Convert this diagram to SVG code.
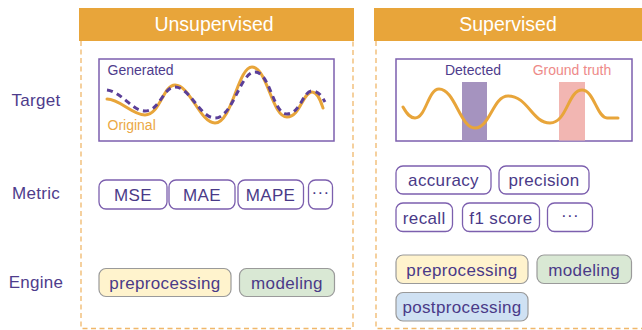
<svg xmlns="http://www.w3.org/2000/svg" width="642" height="330" viewBox="0 0 642 330">
  <style>
    text { font-family: "Liberation Sans", Arial, sans-serif; }
    .hdr { fill: #E8A53A; }
    .hdr-t { fill: #ffffff; font-size: 19.5px; text-anchor: middle; }
    .frame { fill: none; stroke: #F0B76A; stroke-width: 1.3; stroke-dasharray: 5 3.5; }
    .row { fill: #4E3C8C; font-size: 17px; text-anchor: middle; letter-spacing: 0.3px; }
    .panel { fill: #ffffff; stroke: #7C5FAE; stroke-width: 1.5; }
    .pill { fill: #ffffff; stroke: #7C5FAE; stroke-width: 1.3; }
    .pill-t { fill: #4A3A88; font-size: 17px; text-anchor: middle; letter-spacing: 0.35px; }
    .eng { stroke: #9A9A9A; stroke-width: 1.2; }
    .pre { fill: #FFF3CD; }
    .mod { fill: #D9E8D4; }
    .post { fill: #CFE1F3; }
    .wave { fill: none; stroke: #E8A53A; stroke-width: 3; stroke-linecap: round; }
    .gen { fill: none; stroke: #5B3F98; stroke-width: 3; stroke-dasharray: 6 4.5; }
    .small { font-size: 14px; }
  </style>

  <!-- column frames -->
  <g id="frames">
    <path class="frame" d="M81,41 V328.5 H353 V41"/>
    <path class="frame" d="M376,41 V328.5 H642"/>
  </g>

  <!-- column headers -->
  <g id="header-unsupervised">
    <rect class="hdr" x="79" y="8" width="275" height="33"/>
    <text class="hdr-t" x="214" y="31">Unsupervised</text>
  </g>
  <g id="header-supervised">
    <rect class="hdr" x="374" y="8" width="268" height="33"/>
    <text class="hdr-t" x="508" y="31">Supervised</text>
  </g>

  <!-- row labels -->
  <g id="label-target"><text class="row" x="36" y="106">Target</text></g>
  <g id="label-metric"><text class="row" x="36" y="199">Metric</text></g>
  <g id="label-engine"><text class="row" x="36" y="288">Engine</text></g>

  <!-- unsupervised target: generated vs original -->
  <g id="target-unsupervised">
    <rect class="panel" x="99" y="59" width="235" height="82"/>
    <path class="wave" d="M107,99 C120,99 132,115 145,115 C160,115 163,85 175,85 C190,85 200,123 215,123 C232,123 238,67 252,67 C267,67 272,117 287,117 C300,117 303,92 312,92 C318,92 321,102 323,108"/>
    <path class="gen" d="M107,90 C122,92 132,111 145,111 C160,111 163,87 175,87 C190,87 200,118 215,118 C233,118 240,72 255,72 C270,72 273,114 287,114 C300,114 303,91 312,91 C318,91 322,96 325,102"/>
    <text class="small" x="107.5" y="75" fill="#4E3C8C">Generated</text>
    <text class="small" x="107.5" y="130" fill="#EBA844">Original</text>
  </g>

  <!-- supervised target: detected vs ground truth -->
  <g id="target-supervised">
    <rect class="panel" x="396" y="59" width="236" height="82"/>
    <rect x="462" y="82" width="25" height="58.5" fill="#A593BF"/>
    <rect x="559" y="82" width="26" height="58.5" fill="#F2B6B2"/>
    <path class="wave" d="M403,107 C407,114 410,118 415,118 C426,118 428,89 439,89 C455,89 460,128 475,128 C490,128 493,96 508,96 C528,96 532,123 550,123 C567,123 568,90 582,90 C594,90 597,118 607,118 C612,118 615,118 618,118"/>
    <text class="small" x="473" y="75" text-anchor="middle" fill="#4E3C8C">Detected</text>
    <text class="small" x="572" y="75" text-anchor="middle" fill="#EE8A88">Ground truth</text>
  </g>

  <!-- unsupervised metrics -->
  <g id="metric-mse">
    <rect class="pill" x="99" y="180" width="68" height="29" rx="7"/>
    <text class="pill-t" x="133" y="200.8">MSE</text>
  </g>
  <g id="metric-mae">
    <rect class="pill" x="169" y="180" width="66" height="29" rx="7"/>
    <text class="pill-t" x="202" y="200.8">MAE</text>
  </g>
  <g id="metric-mape">
    <rect class="pill" x="238" y="180" width="65.5" height="29" rx="7"/>
    <text class="pill-t" x="270.5" y="200.8">MAPE</text>
  </g>
  <g id="metric-more-u">
    <rect class="pill" x="308.5" y="180" width="24" height="29" rx="7"/>
    <text class="pill-t" x="320.5" y="198">···</text>
  </g>

  <!-- supervised metrics -->
  <g id="metric-accuracy">
    <rect class="pill" x="396" y="166" width="95" height="28" rx="7"/>
    <text class="pill-t" x="443.5" y="186.2">accuracy</text>
  </g>
  <g id="metric-precision">
    <rect class="pill" x="499" y="166" width="90" height="28" rx="7"/>
    <text class="pill-t" x="544" y="186.2">precision</text>
  </g>
  <g id="metric-recall">
    <rect class="pill" x="396" y="203" width="56.5" height="28.5" rx="7"/>
    <text class="pill-t" x="424.2" y="223.5">recall</text>
  </g>
  <g id="metric-f1">
    <rect class="pill" x="462.5" y="203" width="77" height="28.5" rx="7"/>
    <text class="pill-t" x="501" y="223.5">f1 score</text>
  </g>
  <g id="metric-more-s">
    <rect class="pill" x="547.5" y="203" width="45" height="28.5" rx="7"/>
    <text class="pill-t" x="570" y="221">···</text>
  </g>

  <!-- unsupervised engine -->
  <g id="engine-pre-u">
    <rect class="eng pre" x="99" y="268.5" width="132" height="28" rx="7"/>
    <text class="pill-t" x="165" y="288.5">preprocessing</text>
  </g>
  <g id="engine-mod-u">
    <rect class="eng mod" x="239.5" y="268.5" width="95" height="28" rx="7"/>
    <text class="pill-t" x="287" y="288.5">modeling</text>
  </g>

  <!-- supervised engine -->
  <g id="engine-pre-s">
    <rect class="eng pre" x="396" y="255" width="132" height="28.5" rx="7"/>
    <text class="pill-t" x="462" y="275.7">preprocessing</text>
  </g>
  <g id="engine-mod-s">
    <rect class="eng mod" x="537" y="255" width="94.5" height="28.5" rx="7"/>
    <text class="pill-t" x="584.2" y="275.7">modeling</text>
  </g>
  <g id="engine-post-s">
    <rect class="eng post" x="396" y="292.5" width="132" height="28.5" rx="7"/>
    <text class="pill-t" x="462" y="313.2">postprocessing</text>
  </g>
</svg>
